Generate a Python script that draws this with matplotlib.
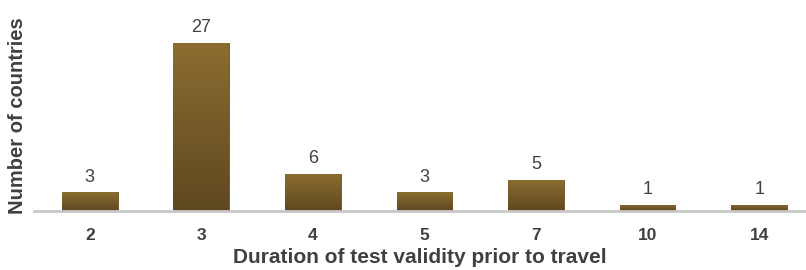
import numpy as np
import matplotlib.pyplot as plt
from matplotlib.colors import LinearSegmentedColormap

# data
durations = ['2', '3', '4', '5', '7', '10', '14']
countries = [3, 27, 6, 3, 5, 1, 1]

plt.rcParams['font.family'] = ['Liberation Sans', 'DejaVu Sans']

fig = plt.figure(figsize=(8.06, 2.70), dpi=100)
ax = fig.add_axes([34/806, 59/270, 1 - 34/806, 0.69])

x = np.arange(len(durations))
bars = ax.bar(x, countries, width=0.5, color='#755a29', edgecolor='#6a5124',
              linewidth=0.6, zorder=2)

# vertical gradient fill for each bar (light top, dark bottom)
cmap = LinearSegmentedColormap.from_list('bronze', ['#5e4820', '#8c6d31'])
grad = np.linspace(0, 1, 256).reshape(-1, 1)
for b in bars:
    x0, y0 = b.get_x(), b.get_y()
    w, h = b.get_width(), b.get_height()
    im = ax.imshow(grad, cmap=cmap, origin='lower', aspect='auto',
                   extent=[x0, x0 + w, y0, y0 + h], zorder=2.5)
    im.set_clip_path(b)

for xi, v in zip(x, countries):
    ax.text(xi, v + 1.1, str(v), ha='center', va='bottom', fontsize=13,
            color='#404040')

ax.set_xlim(-0.5, 6.42)
ax.set_ylim(0, 30)
ax.set_yticks([])
ax.set_xticks(x)
ax.set_xticklabels(durations, fontsize=12.5, fontweight='bold', color='#404040')
ax.tick_params(axis='x', length=0, pad=12)
for s in ['top', 'right', 'left']:
    ax.spines[s].set_visible(False)
ax.spines['bottom'].set_color('#c8c8c8')
ax.spines['bottom'].set_linewidth(2)
ax.spines['bottom'].set_zorder(3)

ax.set_xlabel('Duration of test validity prior to travel', fontsize=15,
              fontweight='bold', color='#404040', labelpad=4)
fig.text(18/806, 0.57, 'Number of countries', rotation=90, ha='center',
         va='center', fontsize=14.5, fontweight='bold', color='#404040')

fig.savefig('out.png', dpi=100)
